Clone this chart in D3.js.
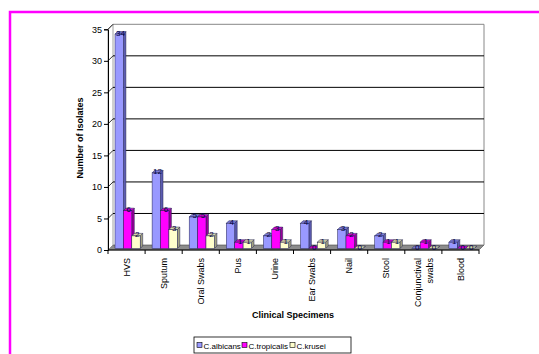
<!DOCTYPE html>
<html><head><meta charset="utf-8">
<script src="https://cdn.jsdelivr.net/npm/d3@7"></script>
<style>html,body{margin:0;padding:0;background:#fff;}svg{display:block;font-family:"Liberation Sans",Arial,sans-serif;}</style>
</head><body><svg id="c" width="539" height="354"></svg>
<script>
const categories = ["HVS","Sputum","Oral Swabs","Pus","Urine","Ear Swabs","Nail","Stool","Conjunctival swabs","Blood"];
const seriesNames = ["C.albicans","C.tropicalis","C.krusei"];
const albicans   = [34,12,5,4,2,4,3,2,0,1];
const tropicalis = [6,6,5,1,3,0,2,1,1,0];
const krusei     = [2,3,2,1,1,1,0,1,0,0];
const yTicks = [0,5,10,15,20,25,30,35];

const seriesVals = [albicans, tropicalis, krusei];
const front = ["#9999FF","#FF00FF","#FFFFCC"];
const side  = ["#5c5cb0","#990099","#a3a382"];
const topc  = ["#7a7ad6","#cc00cc","#d6d6a8"];

const svg = d3.select("#c");
svg.append("rect").attr("x",10).attr("y",12).attr("width",700).attr("height",500)
  .attr("fill","#fff").attr("stroke","#FF00FF").attr("stroke-width",2.5);

const x0 = 108, x1 = 479, D = 5;
const x = d3.scaleBand().domain(categories).range([x0,x1]).padding(0);
const y = d3.scaleLinear().domain([0,35]).range([250,29.3]);
const inner = d3.scaleBand().domain(d3.range(3)).range([7, 7+25.2]).padding(0);

const g = svg.append("g");
g.append("polygon").attr("points",[[x0,y(0)],[x0+D,y(0)-D],[x1+D,y(0)-D],[x1,y(0)]].join(" "))
  .attr("fill","#8c8c8c").attr("stroke","#444").attr("stroke-width",0.6);
g.append("polygon").attr("points",[[x0,y(0)],[x0,y(35)],[x0+D,y(35)-D],[x0+D,y(0)-D]].join(" "))
  .attr("fill","#fff").attr("stroke","#888").attr("stroke-width",0.8);
g.append("polyline").attr("points",[[x0+D,y(35)-D],[x1+D,y(35)-D],[x1+D,y(0)-D]].join(" "))
  .attr("fill","none").attr("stroke","#888").attr("stroke-width",1);
yTicks.filter(v=>v>0 && v<35).forEach(v=>{
  g.append("line").attr("x1",x0+D).attr("x2",x1+D).attr("y1",y(v)-D).attr("y2",y(v)-D)
    .attr("stroke","#000").attr("stroke-width",1);
});
yTicks.filter(v=>v>0).forEach(v=>{
  g.append("line").attr("x1",x0).attr("x2",x0+D).attr("y1",y(v)).attr("y2",y(v)-D)
    .attr("stroke","#000").attr("stroke-width",0.8);
});

const yAxis = svg.append("g").attr("transform",`translate(${x0},0)`)
  .call(d3.axisLeft(y).tickValues(yTicks).tickSize(4).tickPadding(2));
yAxis.select(".domain").attr("stroke","#000");
yAxis.selectAll("text").attr("font-size",9).attr("fill","#000").attr("font-family","Liberation Sans, Arial, sans-serif");

svg.append("line").attr("x1",x0).attr("x2",x1).attr("y1",y(0)).attr("y2",y(0)).attr("stroke","#000");
categories.concat([null]).forEach((c)=>{
  const xx = c===null ? x1 : x(c);
  svg.append("line").attr("x1",xx).attr("x2",xx).attr("y1",y(0)).attr("y2",y(0)+4).attr("stroke","#000");
});

const d = 2.5, base = y(0) - 1.5;
const bars = svg.append("g");
categories.forEach((c,ci)=>{
  seriesVals.forEach((vals,si)=>{
    const v = vals[ci];
    const bx = x(c) + inner(si), w = inner.bandwidth();
    const top = base - (y(0) - y(v));
    const grp = bars.append("g");
    grp.append("polygon").attr("points",[[bx+w,top],[bx+w+d,top-d],[bx+w+d,base-d],[bx+w,base]].join(" "))
      .attr("fill",side[si]).attr("stroke","#202050").attr("stroke-width",0.5);
    grp.append("polygon").attr("points",[[bx,top],[bx+d,top-d],[bx+w+d,top-d],[bx+w,top]].join(" "))
      .attr("fill",topc[si]).attr("stroke","#202050").attr("stroke-width",0.5);
    if (v>0) grp.append("rect").attr("x",bx).attr("y",top).attr("width",w).attr("height",base-top)
      .attr("fill",front[si]).attr("stroke","#202050").attr("stroke-width",0.5);
    grp.append("text").attr("x",bx+w/2+d/2).attr("y",top+1.5).attr("text-anchor","middle")
      .attr("font-size",8).attr("fill","#000040").text(v);
  });
});

categories.forEach(c=>{
  const cx = x(c) + x.bandwidth()/2;
  const lines = c==="Conjunctival swabs" ? ["Conjunctival","swabs"] : [c];
  lines.forEach((t,li)=>{
    const off = (li - (lines.length-1)/2) * 12;
    svg.append("text").attr("transform",`translate(${cx+off},258) rotate(-90)`)
      .attr("text-anchor","end").attr("dy","0.35em").attr("font-size",9).attr("fill","#000").text(t);
  });
});

svg.append("text").attr("x",293).attr("y",318).attr("text-anchor","middle")
  .attr("font-size",9).attr("font-weight","bold").text("Clinical Specimens");
svg.append("text").attr("transform","translate(83,138) rotate(-90)").attr("text-anchor","middle")
  .attr("font-size",9).attr("font-weight","bold").text("Number of Isolates");

const lg = svg.append("g");
lg.append("rect").attr("x",194).attr("y",337).attr("width",157).attr("height",16)
  .attr("fill","#fff").attr("stroke","#000").attr("stroke-width",0.8);
const lx = [197, 242, 290];
seriesNames.forEach((n,i)=>{
  lg.append("rect").attr("x",lx[i]).attr("y",342.5).attr("width",5).attr("height",5)
    .attr("fill",front[i]).attr("stroke","#000").attr("stroke-width",0.6);
  lg.append("text").attr("x",lx[i]+6.5).attr("y",349).attr("font-size",8).attr("fill","#000").text(n);
});
</script></body></html>
